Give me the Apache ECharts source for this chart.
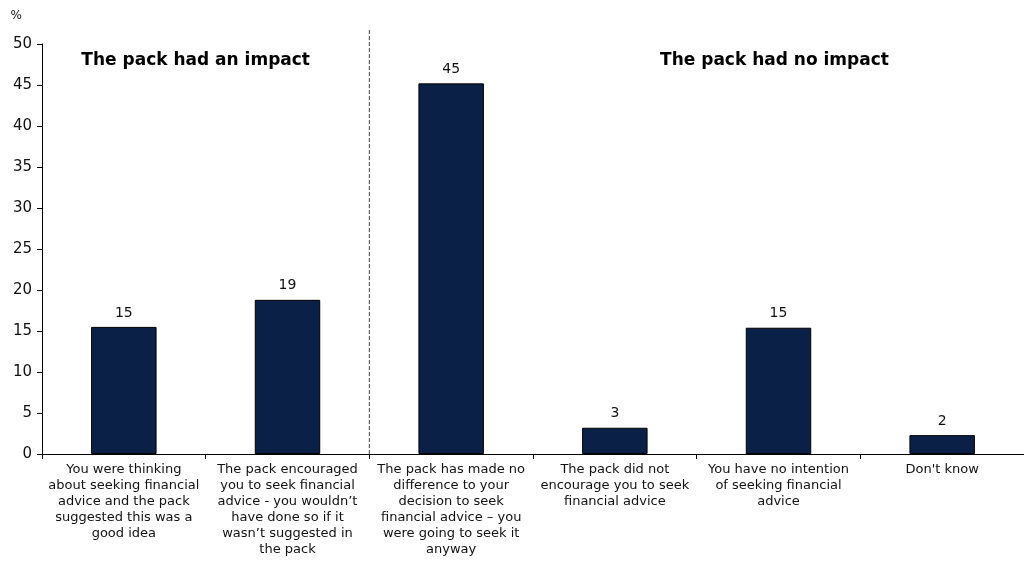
<!DOCTYPE html>
<html><head><meta charset="utf-8">
<script src="https://cdn.jsdelivr.net/npm/echarts@6/dist/echarts.min.js"></script>
<style>html,body{margin:0;padding:0;background:#fff}#c{width:1024px;height:561px}</style>
</head><body><div id="c"></div>
<script>
var categories = [
  "You were thinking\nabout seeking financial\nadvice and the pack\nsuggested this was a\ngood idea",
  "The pack encouraged\nyou to seek financial\nadvice - you wouldn’t\nhave done so if it\nwasn’t suggested in\nthe pack",
  "The pack has made no\ndifference to your\ndecision to seek\nfinancial advice – you\nwere going to seek it\nanyway",
  "The pack did not\nencourage you to seek\nfinancial advice",
  "You have no intention\nof seeking financial\nadvice",
  "Don't know"
];
var values = [15.5, 18.8, 45.2, 3.2, 15.4, 2.3];
var valueLabels = ["15", "19", "45", "3", "15", "2"];
var yTicks = [0, 5, 10, 15, 20, 25, 30, 35, 40, 45, 50];
var groupTitles = ["The pack had an impact", "The pack had no impact"];

var font = "'DejaVu Sans', Verdana, sans-serif";
var chart = echarts.init(document.getElementById('c'));
chart.setOption({
  animation: false,
  grid: {left: 42, right: -6, top: 44, bottom: 107},
  xAxis: {
    type: 'category', data: categories,
    axisLine: {lineStyle: {color: '#000', width: 1}},
    axisTick: {show: true, length: 5, lineStyle: {color: '#000'}},
    axisLabel: {color: '#111', fontFamily: font, fontSize: 13, lineHeight: 16, interval: 0, margin: 8}
  },
  yAxis: {
    type: 'value', min: 0, max: 50, interval: 5,
    name: '%', nameLocation: 'end', nameGap: 22,
    nameTextStyle: {color: '#111', fontFamily: font, fontSize: 12, align: 'right', padding: [0, 20, 0, 0]},
    axisLine: {show: true, lineStyle: {color: '#000'}},
    axisTick: {show: true, length: 5, lineStyle: {color: '#000'}},
    axisLabel: {color: '#111', fontFamily: font, fontSize: 15, margin: 10,
      formatter: function(v){ return yTicks.indexOf(v) >= 0 ? String(v) : ''; }},
    splitLine: {show: false}
  },
  series: [{
    type: 'bar', data: values, barWidth: '40%',
    itemStyle: {color: '#0a2046', borderColor: '#000', borderWidth: 1},
    label: {show: true, position: 'top', distance: 7, color: '#111', fontFamily: font, fontSize: 14,
      formatter: function(p){ return valueLabels[p.dataIndex]; }}
  }]
});

function draw() {
  var x0 = chart.convertToPixel({xAxisIndex: 0}, 1);
  var x1 = chart.convertToPixel({xAxisIndex: 0}, 2);
  var xs = (x0 + x1) / 2;
  var yTop = chart.convertToPixel({yAxisIndex: 0}, 51.7);
  var yBot = chart.convertToPixel({yAxisIndex: 0}, 0);
  var yTitle = chart.convertToPixel({yAxisIndex: 0}, 48);
  var c0 = chart.convertToPixel({xAxisIndex: 0}, 0);
  var c1 = chart.convertToPixel({xAxisIndex: 0}, 1);
  var c4 = chart.convertToPixel({xAxisIndex: 0}, 4);
  chart.setOption({graphic: [
    {type: 'line', shape: {x1: xs, y1: yTop, x2: xs, y2: yBot},
      style: {stroke: '#444', lineWidth: 1, lineDash: [4, 2]}},
    {type: 'text', x: (c0 + c1) / 2 - 10, y: yTitle,
      style: {text: groupTitles[0], fill: '#000', font: 'bold 17px ' + font, textAlign: 'center', textVerticalAlign: 'middle'}},
    {type: 'text', x: c4 - 4, y: yTitle,
      style: {text: groupTitles[1], fill: '#000', font: 'bold 17px ' + font, textAlign: 'center', textVerticalAlign: 'middle'}}
  ]});
}
draw();
</script></body></html>
